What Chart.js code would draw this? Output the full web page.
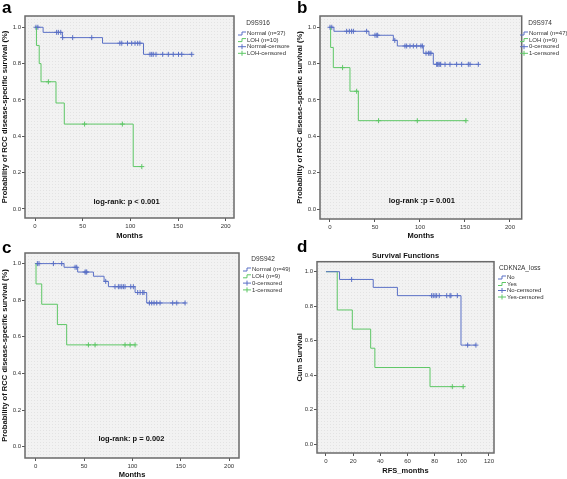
<!DOCTYPE html>
<html>
<head>
<meta charset="utf-8">
<script src="https://cdn.jsdelivr.net/npm/chart.js@4.4.1/dist/chart.umd.min.js"></script>
<style>
  html, body { margin: 0; padding: 0; background: #fff; }
  #wrap { position: relative; width: 567px; height: 479px; overflow: hidden; }
  canvas { position: absolute; }
</style>
</head>
<body>
<div id="wrap">
  <canvas id="panel-a" width="290" height="240" style="left:0;top:0"></canvas>
  <canvas id="panel-b" width="277" height="240" style="left:290px;top:0"></canvas>
  <canvas id="panel-c" width="290" height="239" style="left:0;top:240px"></canvas>
  <canvas id="panel-d" width="277" height="239" style="left:290px;top:240px"></canvas>
</div>
<script>
// ticks
const monthTicks = [0, 50, 100, 150, 200];
const rfsTicks = [0, 20, 40, 60, 80, 100, 120];
const survTicks = [0, 0.2, 0.4, 0.6, 0.8, 1.0];

// a - D9S916
const aNormalTimes = [8.5, 28.7, 70.8, 113.8];
const aNormalSurv = [0.972, 0.943, 0.912, 0.851];
const aNormalCensored = [1, 3, 22.7, 24.5, 27, 29, 39.5, 59.5, 89, 91, 97, 101.4, 104.9, 107.7, 110, 120.6, 122.4, 124, 126.9, 133.9, 139.8, 145, 150.5, 153.9, 164.4];
const aLohTimes = [1.5, 4.4, 6.3, 22, 30.7, 103];
const aLohSurv = [0.9, 0.8, 0.7, 0.583, 0.467, 0.233];
const aLohCensored = [14, 52, 91.6, 112];
const aLabels = ['Normal (n=37)', 'LOH (n=10)', 'Normal-censored', 'LOH-censored'];

// b - D9S974
const bNormalTimes = [4.4, 43.3, 70.4, 74.8, 103.7, 114.8];
const bNormalSurv = [0.978, 0.956, 0.928, 0.897, 0.857, 0.796];
const bNormalCensored = [0, 2, 18.5, 21.5, 24, 26, 40.7, 50, 52, 53, 72, 83.3, 85.2, 88.9, 92.6, 96.3, 101, 102.6, 106.7, 109.3, 111, 112.2, 118.5, 119.6, 121, 122.2, 123, 127.8, 133.3, 140.7, 146.3, 153.7, 155.6, 164.8];
const bLohTimes = [0.7, 3.7, 22.2, 31.5];
const bLohSurv = [0.889, 0.778, 0.648, 0.486];
const bLohCensored = [14, 29.6, 54, 97, 151];
const bLabels = ['Normal (n=47)', 'LOH (n=9)', '0-censored', '1-censored'];

// c - D9S942
const cNormalTimes = [29.3, 43.4, 59.7, 70.7, 75.2, 102.8, 114.8];
const cNormalSurv = [0.98, 0.954, 0.931, 0.903, 0.874, 0.842, 0.785];
const cNormalCensored = [1.7, 3.4, 18.3, 26.9, 40.7, 42.4, 51, 52, 52.8, 72.4, 82, 85.5, 87.2, 89, 90.7, 92.4, 98.3, 101, 105.5, 108, 110.7, 112, 117.6, 120, 122.4, 125.2, 128.6, 141.7, 145.9, 154.5];
const cLohTimes = [0.3, 6.2, 22.4, 32];
const cLohSurv = [0.889, 0.778, 0.667, 0.556];
const cLohCensored = [54.5, 61.4, 92.4, 97.6, 102.8];
const cLabels = ['Normal (n=49)', 'LOH (n=9)', '0-censored', '1-censored'];

// d - CDKN2A_loss
const dNoTimes = [10, 34.8, 52.6, 99.4];
const dNoSurv = [0.955, 0.909, 0.861, 0.574];
const dNoCensored = [18.9, 77.8, 79, 80.3, 81.5, 83.4, 88.9, 91.3, 92, 96.7, 104.3, 110.4];
const dYesTimes = [8.3, 19.4, 32.9, 36, 76.6];
const dYesSurv = [0.778, 0.667, 0.556, 0.444, 0.333];
const dYesCensored = [93, 101];
const dLabels = ['No', 'Yes', 'No-censored', 'Yes-censored'];

const FONT = "'Liberation Sans', Arial, sans-serif";
const BLUE = '#5a70c6';
const GREEN = '#5ec766';

// valor da curva no tempo t
function survAt(times, surv, t) {
  let s = 1;
  times.forEach((et, i) => { if (et <= t) s = surv[i]; });
  return s;
}

function stepPoints(times, surv, cens) {
  const pts = [{ x: 0, y: 1 }];
  times.forEach((t, i) => pts.push({ x: t, y: surv[i] }));
  const lastEvent = times[times.length - 1];
  const lastT = Math.max(lastEvent, ...cens);
  if (lastT > lastEvent) pts.push({ x: lastT, y: surv[surv.length - 1] });
  return pts;
}

function censorPoints(times, surv, cens) {
  return cens.map(t => ({ x: t, y: survAt(times, surv, t) }));
}

// fundo pontilhado tipo SPSS
function dotPattern(ctx) {
  const tile = document.createElement('canvas');
  tile.width = 3; tile.height = 3;
  const t = tile.getContext('2d');
  t.fillStyle = '#f2f2f2';
  t.fillRect(0, 0, 3, 3);
  t.fillStyle = '#e3e3e3';
  t.fillRect(1, 1, 1, 1);
  return ctx.createPattern(tile, 'repeat');
}

// fundo, moldura, legenda e textos
const kmDecor = {
  id: 'kmDecor',
  beforeDatasetsDraw(chart) {
    const a = chart.chartArea, ctx = chart.ctx;
    ctx.save();
    ctx.fillStyle = dotPattern(ctx);
    ctx.fillRect(a.left, a.top, a.width, a.height);
    ctx.restore();
  },
  afterDraw(chart, args, o) {
    const ctx = chart.ctx, a = chart.chartArea;
    ctx.save();
    ctx.strokeStyle = '#6a6a6a';
    ctx.lineWidth = 1.5;
    ctx.strokeRect(a.left, a.top, a.width, a.height);

    ctx.textBaseline = 'middle';
    ctx.fillStyle = '#000';
    ctx.font = `bold 17px ${FONT}`;
    ctx.textAlign = 'left';
    ctx.fillText(o.letter, o.letterPos[0], o.letterPos[1]);

    if (o.title) {
      ctx.font = `bold 7.5px ${FONT}`;
      ctx.textAlign = 'center';
      ctx.fillStyle = '#111';
      ctx.fillText(o.title, (a.left + a.right) / 2, o.titleY);
    }

    ctx.font = `6.5px ${FONT}`;
    ctx.fillStyle = '#333';
    ctx.textAlign = o.legendTitleAlign;
    ctx.fillText(o.legendTitle, o.legendTitlePos[0], o.legendTitlePos[1]);

    ctx.font = `6px ${FONT}`;
    o.labels.forEach((lab, i) => {
      const x = o.legendPos[0], y = o.legendPos[1] + i * o.legendStep;
      ctx.strokeStyle = i % 2 === 0 ? BLUE : GREEN;
      ctx.lineWidth = 1;
      ctx.beginPath();
      if (i < 2) {
        ctx.moveTo(x, y + 1.5); ctx.lineTo(x + 4, y + 1.5);
        ctx.lineTo(x + 4, y - 1.5); ctx.lineTo(x + 8, y - 1.5);
      } else {
        ctx.moveTo(x, y); ctx.lineTo(x + 8, y);
        ctx.moveTo(x + 4, y - 2.5); ctx.lineTo(x + 4, y + 2.5);
      }
      ctx.stroke();
      ctx.fillStyle = '#333';
      ctx.textAlign = 'left';
      ctx.fillText(lab, x + 9, y);
    });

    if (o.note) {
      ctx.font = `bold 7.5px ${FONT}`;
      ctx.fillStyle = '#111';
      ctx.textAlign = 'center';
      ctx.fillText(o.note, chart.scales.x.getPixelForValue(o.noteAt[0]), chart.scales.y.getPixelForValue(o.noteAt[1]));
    }
    ctx.restore();
  }
};

function makePanel(id, g1, g2, cfg) {
  const lineDs = (g, color) => ({
    data: stepPoints(g[0], g[1], g[2]), borderColor: color, borderWidth: 1,
    stepped: true, pointRadius: 0, fill: false
  });
  const censDs = (g, color) => ({
    data: censorPoints(g[0], g[1], g[2]), borderColor: color, borderWidth: 1,
    showLine: false, pointStyle: 'cross', pointRadius: 2.5
  });
  new Chart(document.getElementById(id), {
    type: 'line',
    data: { datasets: [lineDs(g1, BLUE), lineDs(g2, GREEN), censDs(g1, BLUE), censDs(g2, GREEN)] },
    options: {
      responsive: false,
      animation: false,
      events: [],
      layout: { padding: cfg.padding },
      plugins: {
        legend: { display: false },
        tooltip: { enabled: false },
        kmDecor: cfg.decor
      },
      scales: {
        x: {
          type: 'linear', min: cfg.xRange[0], max: cfg.xRange[1],
          afterBuildTicks: s => { s.ticks = cfg.xTicks.map(v => ({ value: v })); },
          afterFit: s => { s.height = cfg.xAxisH; },
          grid: { drawOnChartArea: false, drawTicks: true, tickLength: 3, color: '#555' },
          border: { display: false },
          ticks: { font: { size: 6, family: FONT }, color: '#333', padding: 2, maxRotation: 0, autoSkip: false },
          title: { display: true, text: cfg.xTitle, font: { size: 7.5, weight: 'bold', family: FONT }, color: '#111', padding: 0 }
        },
        y: {
          type: 'linear', min: cfg.yRange[0], max: cfg.yRange[1],
          afterBuildTicks: s => { s.ticks = survTicks.map(v => ({ value: v })); },
          afterFit: s => { s.width = cfg.yAxisW; },
          grid: { drawOnChartArea: false, drawTicks: true, tickLength: 3, color: '#555' },
          border: { display: false },
          ticks: { font: { size: 6, family: FONT }, color: '#333', padding: 1, callback: v => Number(v).toFixed(1) },
          title: { display: true, text: cfg.yTitle, font: { size: 7.6, weight: 'bold', family: FONT }, color: '#111', padding: 0 }
        }
      }
    },
    plugins: [kmDecor]
  });
}

const rccTitle = 'Probability of RCC disease-specific survival (%)';

makePanel('panel-a', [aNormalTimes, aNormalSurv, aNormalCensored], [aLohTimes, aLohSurv, aLohCensored], {
  padding: { left: 0, top: 16, right: 56, bottom: 0 }, yAxisW: 25, xAxisH: 22,
  xRange: [-10.5, 208.7], yRange: [-0.05, 1.062], xTicks: monthTicks,
  xTitle: 'Months', yTitle: rccTitle,
  decor: {
    letter: 'a', letterPos: [2, 8],
    legendTitle: 'D9S916', legendTitleAlign: 'center', legendTitlePos: [258, 23],
    legendPos: [238, 33.5], legendStep: 6.6, labels: aLabels,
    note: 'log-rank: p < 0.001', noteAt: [96, 0.04]
  }
});

makePanel('panel-b', [bNormalTimes, bNormalSurv, bNormalCensored], [bLohTimes, bLohSurv, bLohCensored], {
  padding: { left: 5, top: 16, right: 45.3, bottom: 0 }, yAxisW: 25, xAxisH: 21,
  xRange: [-11.1, 213], yRange: [-0.055, 1.062], xTicks: monthTicks,
  xTitle: 'Months', yTitle: rccTitle,
  decor: {
    letter: 'b', letterPos: [7, 8],
    legendTitle: 'D9S974', legendTitleAlign: 'center', legendTitlePos: [250, 23],
    legendPos: [230, 33.5], legendStep: 6.6, labels: bLabels,
    note: 'log-rank :p = 0.001', noteAt: [102, 0.044]
  }
});

makePanel('panel-c', [cNormalTimes, cNormalSurv, cNormalCensored], [cLohTimes, cLohSurv, cLohCensored], {
  padding: { left: 0, top: 13, right: 51, bottom: 0 }, yAxisW: 25, xAxisH: 21,
  xRange: [-11.1, 210.3], yRange: [-0.062, 1.058], xTicks: monthTicks,
  xTitle: 'Months', yTitle: rccTitle,
  decor: {
    letter: 'c', letterPos: [2, 8],
    legendTitle: 'D9S942', legendTitleAlign: 'center', legendTitlePos: [263, 19],
    legendPos: [243, 29.5], legendStep: 6.8, labels: cLabels,
    note: 'log-rank: p = 0.002', noteAt: [99, 0.04]
  }
});

makePanel('panel-d', [dNoTimes, dNoSurv, dNoCensored], [dYesTimes, dYesSurv, dYesCensored], {
  padding: { left: 5, top: 21.7, right: 73, bottom: 4 }, yAxisW: 22, xAxisH: 22,
  xRange: [-6.6, 123.7], yRange: [-0.052, 1.058], xTicks: rfsTicks,
  xTitle: 'RFS_months', yTitle: 'Cum Survival',
  decor: {
    letter: 'd', letterPos: [7, 7], title: 'Survival Functions', titleY: 16,
    legendTitle: 'CDKN2A_loss', legendTitleAlign: 'left', legendTitlePos: [209, 28.5],
    legendPos: [208, 37.5], legendStep: 6.5, labels: dLabels
  }
});
</script>
</body>
</html>
